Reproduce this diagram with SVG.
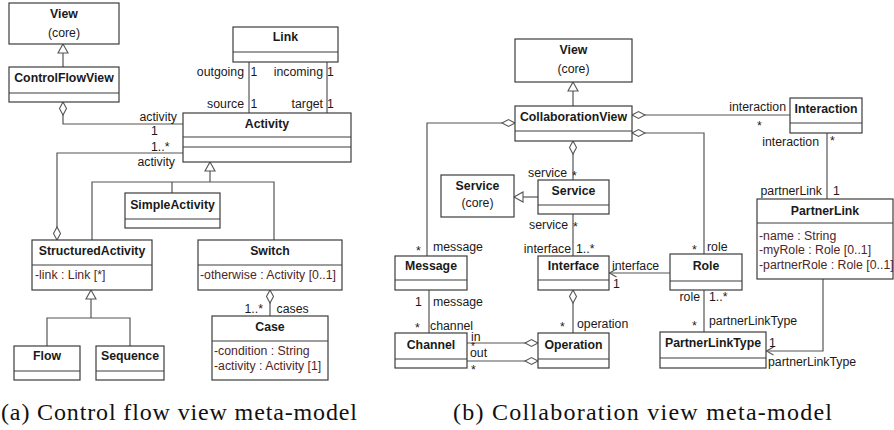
<svg xmlns="http://www.w3.org/2000/svg" width="894" height="430" viewBox="0 0 894 430">
<style>
.bx{fill:#fff;stroke:#3c3c3c;stroke-width:1.2}
.dv{stroke:#3c3c3c;stroke-width:1.2}
.ln{fill:none;stroke:#555;stroke-width:1.2}
text{font-family:"Liberation Sans",Arial,sans-serif;font-size:12.3px;fill:#1a1a1a}
.nm{font-weight:bold;text-anchor:middle}
.cr{text-anchor:middle}
.at{fill:#4f2626}
.e{text-anchor:end}
.sm{font-size:10px}
.cap{font-family:"Liberation Serif","Times New Roman",serif;font-size:24px;fill:#111}
</style>
<defs>
<marker id="dia" markerUnits="userSpaceOnUse" markerWidth="14" markerHeight="8" orient="auto" overflow="visible" refX="0" refY="0">
<path d="M0,0 L6.5,-3.5 L13,0 L6.5,3.5 Z" fill="#fff" stroke="#555" stroke-width="1.1"/>
</marker>
<marker id="tri" markerUnits="userSpaceOnUse" markerWidth="10" markerHeight="12" orient="auto" overflow="visible" refX="0" refY="0">
<path d="M0,0 L9,-5 L9,5 Z" fill="#fff" stroke="#555" stroke-width="1.1"/>
</marker>
<marker id="arr" markerUnits="userSpaceOnUse" markerWidth="10" markerHeight="10" orient="auto" overflow="visible" refX="0" refY="0">
<path d="M-7,-4 L0,0 L-7,4" fill="none" stroke="#555" stroke-width="1.1"/>
</marker>
</defs>

<g id="connectors">
<path class="ln" d="M63,44 V67" marker-start="url(#tri)"/>
<path class="ln" d="M63,102 V124 H183" marker-start="url(#dia)"/>
<path class="ln" d="M249,62 V113"/>
<path class="ln" d="M327,62 V113"/>
<path class="ln" d="M57,240 V153 H183" marker-start="url(#dia)"/>
<path class="ln" d="M210,162 V182" marker-start="url(#tri)"/>
<path class="ln" d="M92,240 V182 H274 V240"/>
<path class="ln" d="M172,182 V193"/>
<path class="ln" d="M270,290 V316" marker-start="url(#dia)"/>
<path class="ln" d="M91,290 V318" marker-start="url(#tri)"/>
<path class="ln" d="M47,346 V318 H130 V346"/>
<path class="ln" d="M573,82 V106" marker-start="url(#tri)"/>
<path class="ln" d="M632,115 H790" marker-start="url(#dia)"/>
<path class="ln" d="M632,133 H704 V254" marker-start="url(#dia)"/>
<path class="ln" d="M515,123 H427 V256" marker-start="url(#dia)"/>
<path class="ln" d="M573,141 V180" marker-start="url(#dia)"/>
<path class="ln" d="M514,197 H538" marker-start="url(#tri)"/>
<path class="ln" d="M573,214 V256"/>
<path class="ln" d="M827,133 V199"/>
<path class="ln" d="M670,273 H609.5" marker-end="url(#arr)"/>
<path class="ln" d="M573,290 V333" marker-start="url(#dia)"/>
<path class="ln" d="M429,290 V333"/>
<path class="ln" d="M538,343 H467" marker-start="url(#dia)"/>
<path class="ln" d="M538,361 H467" marker-start="url(#dia)"/>
<path class="ln" d="M704,290 V332"/>
<path class="ln" d="M823,279 V351 H766.5" marker-end="url(#arr)"/>
</g>

<g id="labels">
<text x="244" y="75.5" class="e">outgoing</text><text x="250.5" y="75.5">1</text>
<text x="323" y="75.5" class="e">incoming</text><text x="327" y="75.5">1</text>
<text x="244" y="107.5" class="e">source</text><text x="250.5" y="107.5">1</text>
<text x="323" y="107.5" class="e">target</text><text x="327" y="107.5">1</text>
<text x="177" y="121" class="e">activity</text>
<text x="151" y="134.5">1</text>
<text x="151" y="151">1..*</text>
<text x="175" y="166" class="e">activity</text>
<text x="263" y="312.5" class="e">1..*</text>
<text x="276.5" y="312.5">cases</text>

<text x="786" y="111" class="e">interaction</text>
<text x="757" y="129.5">*</text>
<text x="819" y="146" class="e">interaction</text>
<text x="830" y="145">*</text>
<text x="822" y="195" class="e">partnerLink</text>
<text x="833" y="195">1</text>
<text x="567" y="176.5" class="e">service</text>
<text x="572" y="180">*</text>
<text x="568" y="228.5" class="e">service</text>
<text x="573" y="231">*</text>
<text x="571" y="252.5" class="e">interface</text>
<text x="576" y="252.5">1..*</text>
<text x="416" y="255">*</text>
<text x="433" y="250.5">message</text>
<text x="692" y="253.5">*</text>
<text x="707" y="251">role</text>
<text x="612" y="270">interface</text>
<text x="613" y="288">1</text>
<text x="415" y="305.5">1</text>
<text x="433" y="306">message</text>
<text x="415" y="332">*</text>
<text x="430" y="330">channel</text>
<text x="560" y="331">*</text>
<text x="577" y="327.5">operation</text>
<text x="471" y="340.5">in</text>
<text x="470" y="356.5">out</text>
<text x="471" y="350" class="sm">*</text>
<text x="471" y="374">*</text>
<text x="700" y="301" class="e">role</text>
<text x="709" y="301">1..*</text>
<text x="692" y="329.5">*</text>
<text x="709" y="325">partnerLinkType</text>
<text x="769" y="347">1</text>
<text x="768" y="366">partnerLinkType</text>
</g>

<g id="View_a"><rect class="bx" x="9" y="3" width="110" height="41"/><text class="nm" x="64" y="17.5">View</text><text class="cr" x="64" y="36.5">(core)</text></g>
<g id="ControlFlowView"><rect class="bx" x="9" y="67" width="110" height="35"/><line class="dv" x1="9" y1="93" x2="119" y2="93"/><text class="nm" x="64" y="81.5">ControlFlowView</text></g>
<g id="Link"><rect class="bx" x="233" y="27" width="105" height="35"/><line class="dv" x1="233" y1="52" x2="338" y2="52"/><text class="nm" x="285.5" y="41">Link</text></g>
<g id="Activity"><rect class="bx" x="183" y="113" width="168" height="49"/><line class="dv" x1="183" y1="137" x2="351" y2="137"/><line class="dv" x1="183" y1="147" x2="351" y2="147"/><text class="nm" x="267" y="127.5">Activity</text></g>
<g id="SimpleActivity"><rect class="bx" x="125" y="193" width="95" height="35"/><line class="dv" x1="125" y1="219" x2="220" y2="219"/><text class="nm" x="172.5" y="208.5">SimpleActivity</text></g>
<g id="StructuredActivity"><rect class="bx" x="32" y="240" width="120" height="50"/><line class="dv" x1="32" y1="265" x2="152" y2="265"/><text class="nm" x="92" y="254.5">StructuredActivity</text><text class="at" x="35" y="279">-link : Link [*]</text></g>
<g id="Switch"><rect class="bx" x="198" y="240" width="144" height="50"/><line class="dv" x1="198" y1="265" x2="342" y2="265"/><text class="nm" x="270" y="254.5">Switch</text><text class="at" x="200" y="279">-otherwise : Activity [0..1]</text></g>
<g id="Case"><rect class="bx" x="212" y="316" width="116" height="64"/><line class="dv" x1="212" y1="341" x2="328" y2="341"/><text class="nm" x="270" y="330.5">Case</text><text class="at" x="214" y="355">-condition : String</text><text class="at" x="214" y="370">-activity : Activity [1]</text></g>
<g id="Flow"><rect class="bx" x="14" y="346" width="66" height="34"/><line class="dv" x1="14" y1="371" x2="80" y2="371"/><text class="nm" x="47" y="360">Flow</text></g>
<g id="Sequence"><rect class="bx" x="96" y="346" width="68" height="34"/><line class="dv" x1="96" y1="371" x2="164" y2="371"/><text class="nm" x="130" y="360">Sequence</text></g>

<g id="View_b"><rect class="bx" x="515" y="39" width="117" height="43"/><text class="nm" x="573.5" y="53.5">View</text><text class="cr" x="573.5" y="72.5">(core)</text></g>
<g id="CollaborationView"><rect class="bx" x="515" y="106" width="117" height="35"/><line class="dv" x1="515" y1="131" x2="632" y2="131"/><text class="nm" x="573.5" y="120.5">CollaborationView</text></g>
<g id="Interaction"><rect class="bx" x="790" y="98" width="72" height="35"/><line class="dv" x1="790" y1="123" x2="862" y2="123"/><text class="nm" x="826" y="112.5">Interaction</text></g>
<g id="ServiceCore"><rect class="bx" x="441" y="175" width="73" height="42"/><text class="nm" x="477.5" y="189.5">Service</text><text class="cr" x="477.5" y="206.5">(core)</text></g>
<g id="Service"><rect class="bx" x="538" y="180" width="71" height="34"/><line class="dv" x1="538" y1="205" x2="609" y2="205"/><text class="nm" x="573.5" y="194.5">Service</text></g>
<g id="PartnerLink"><rect class="bx" x="757" y="199" width="136" height="80"/><line class="dv" x1="757" y1="223" x2="893" y2="223"/><text class="nm" x="825" y="214.5">PartnerLink</text><text class="at" x="759" y="239.5">-name : String</text><text class="at" x="759" y="254">-myRole : Role [0..1]</text><text class="at" x="759" y="268.5">-partnerRole : Role [0..1]</text></g>
<g id="Message"><rect class="bx" x="395" y="256" width="72" height="34"/><line class="dv" x1="395" y1="280" x2="467" y2="280"/><text class="nm" x="431" y="270">Message</text></g>
<g id="Interface"><rect class="bx" x="538" y="256" width="71" height="34"/><line class="dv" x1="538" y1="280" x2="609" y2="280"/><text class="nm" x="573.5" y="270">Interface</text></g>
<g id="Role"><rect class="bx" x="670" y="254" width="72" height="36"/><line class="dv" x1="670" y1="281" x2="742" y2="281"/><text class="nm" x="706" y="269.5">Role</text></g>
<g id="Channel"><rect class="bx" x="395" y="333" width="72" height="35"/><line class="dv" x1="395" y1="359" x2="467" y2="359"/><text class="nm" x="431" y="348.5">Channel</text></g>
<g id="Operation"><rect class="bx" x="538" y="333" width="71" height="35"/><line class="dv" x1="538" y1="359" x2="609" y2="359"/><text class="nm" x="573.5" y="348.5">Operation</text></g>
<g id="PartnerLinkType"><rect class="bx" x="660" y="332" width="106" height="36"/><line class="dv" x1="660" y1="358" x2="766" y2="358"/><text class="nm" x="713" y="347">PartnerLinkType</text></g>

<text class="cap" x="1" y="420" textLength="356" lengthAdjust="spacing">(a) Control flow view meta-model</text>
<text class="cap" x="453" y="420" textLength="379" lengthAdjust="spacing">(b) Collaboration view meta-model</text>
</svg>
